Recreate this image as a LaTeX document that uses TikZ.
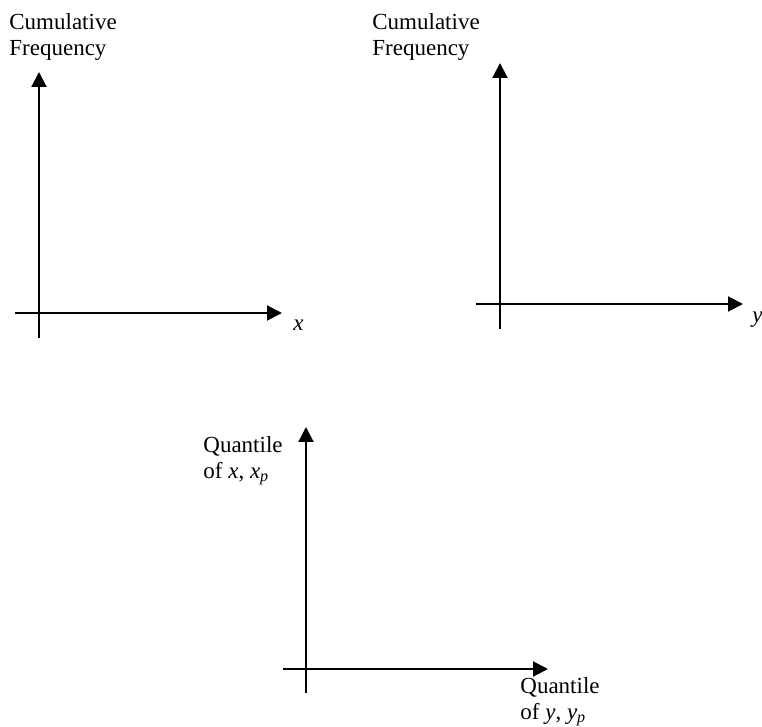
\documentclass[tikz,border=0pt]{standalone}
\usepackage{fontspec}
\setmainfont{Liberation Serif}
\usetikzlibrary{arrows.meta,positioning}
\newcommand{\vx}{\textit{x}}
\newcommand{\vy}{\textit{y}}

\begin{document}
\begin{tikzpicture}[x=0.5pt, y=-0.5pt,
  ax/.style={line width=1pt, -{Triangle[length=7.5pt,width=7.5pt]}},
  lbl/.style={inner sep=0pt, align=left,
              font=\fontsize{11.5pt}{13pt}\selectfont}]
\useasboundingbox (0,0) rectangle (762,727);
% top left: cumulative frequency of x
\coordinate (b1) at (39,338); \coordinate (t1) at (39,72);
\coordinate (l1) at (15,313); \coordinate (r1) at (282,313);
\draw[ax] (b1) -- (t1); \draw[ax] (l1) -- (r1);
\node[lbl, anchor=north west] (cf1) at (9,13) {Cumulative\\Frequency};
\node[lbl, anchor=base west] (xl) at (293,331) {\vx};
% top right: cumulative frequency of y
\coordinate (b2) at (500,329); \coordinate (t2) at (500,63);
\coordinate (l2) at (476,304); \coordinate (r2) at (743,304);
\draw[ax] (b2) -- (t2); \draw[ax] (l2) -- (r2);
\node[lbl, anchor=north west] (cf2) at (372,13) {Cumulative\\Frequency};
\node[lbl, anchor=base west] (yl) at (752,323) {\vy};
% bottom: quantile against quantile
\coordinate (b3) at (306,693); \coordinate (t3) at (306,427);
\coordinate (l3) at (283,669); \coordinate (r3) at (548,669);
\draw[ax] (b3) -- (t3); \draw[ax] (l3) -- (r3);
\node[lbl, anchor=north west] (qx) at (203,436)
  {Quantile\\of \vx, \vx\textsubscript{\textit{p}}};
\node[lbl, anchor=north west] (qy) at (520,677)
  {Quantile\\of \vy, \vy\textsubscript{\textit{p}}};
\end{tikzpicture}
\end{document}
